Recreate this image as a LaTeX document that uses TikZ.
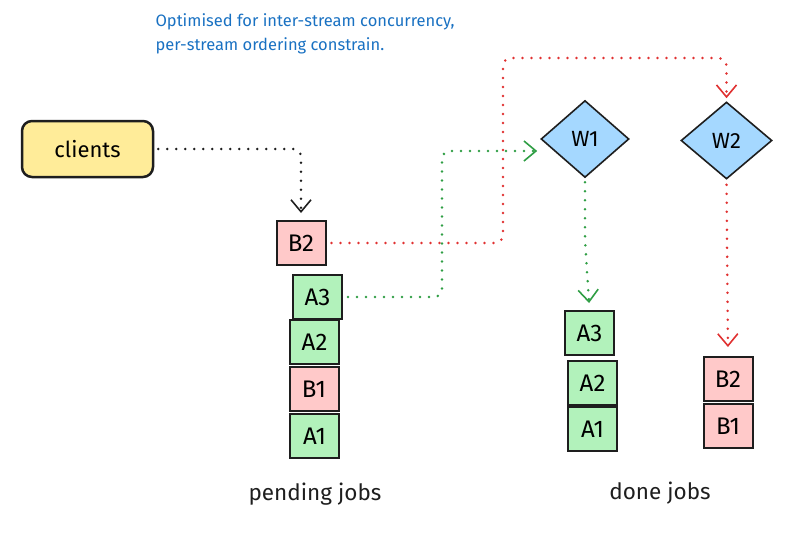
\documentclass[tikz,border=0pt]{standalone}
\usepackage{fontspec}
\setmainfont{Fira Sans}
\usetikzlibrary{arrows.meta,shapes.geometric}

\definecolor{ink}{HTML}{1E1E1E}
\definecolor{jobA}{HTML}{B2F2BB}
\definecolor{jobB}{HTML}{FFC9C9}
\definecolor{worker}{HTML}{A5D8FF}
\definecolor{client}{HTML}{FFEC99}
\definecolor{note}{HTML}{1971C2}
\definecolor{flowA}{HTML}{2F9E44}
\definecolor{flowB}{HTML}{E03131}

\begin{document}
\begin{tikzpicture}[x=1pt,y=-1pt,
  job/.style={rectangle,draw=ink,line width=2pt,minimum width=49pt,minimum height=44pt,inner sep=0pt,font=\fontsize{24}{28}\selectfont},
  jobA/.style={job,fill=jobA},
  jobB/.style={job,fill=jobB},
  worker node/.style={diamond,draw=ink,line width=1.6pt,fill=worker,inner sep=0pt,minimum width=88pt,minimum height=77pt,font=\fontsize{22}{26}\selectfont},
  label/.style={font=\fontsize{22.5}{26}\selectfont,text=ink},
  flow/.style={line width=2.8pt,line cap=round,dash pattern=on 0pt off 9pt,rounded corners=8pt,
    -{Straight Barb[length=12pt,width=20pt,line width=1.6pt]}}]

  \useasboundingbox (0,0) rectangle (802,552);

  % note at the top
  \node[anchor=west,align=left,text=note,font=\fontsize{16.5}{24}\selectfont] (note) at (152,34)
    {Optimised for inter-stream concurrency,\\per-stream ordering constrain.};

  \node[draw=ink,line width=2.5pt,fill=client,rounded corners=10pt,minimum width=131pt,minimum height=56pt,
    font=\fontsize{22}{26}\selectfont] (clients) at (87.5,149) {clients};

  % pending jobs
  \node[jobB] (pB2) at (301,243) {B2};
  \node[jobA] (pA3) at (317.5,297) {A3};
  \node[jobA] (pA2) at (314.5,342) {A2};
  \node[jobB] (pB1) at (314,389) {B1};
  \node[jobA] (pA1) at (314.5,436) {A1};
  \node[label] (pending) at (315,494) {pending jobs};

  % workers
  \node[worker node] (W1) at (585,139) {W1};
  \node[worker node,minimum width=91pt] (W2) at (726.5,140.5) {W2};

  % done jobs
  \node[jobA] (dA3) at (589.5,333) {A3};
  \node[jobA] (dA2) at (592.5,383) {A2};
  \node[jobA] (dA1) at (592.5,429) {A1};
  \node[jobB] (dB2) at (728,379) {B2};
  \node[jobB] (dB1) at (728,426) {B1};
  \node[label] (done) at (660,493) {done jobs};

  \draw[flow,ink,shorten <=4pt,shorten >=7pt] (clients.east) -| (pB2.north);
  \draw[flow,flowB,shorten <=5pt,shorten >=3pt] (pB2.east) -| (503,58) -| (W2.north);
  \draw[flow,flowA,shorten <=5pt,shorten >=3pt] (pA3.east) -| (442,151) -- ([yshift=-12pt]W1.west);
  \draw[flow,flowA,shorten <=4pt,shorten >=7pt] (W1.south) -- ++(0,62) -- (dA3.north);
  \draw[flow,flowB,shorten <=5pt,shorten >=9pt] (W2.south) -- (dB2.north);
\end{tikzpicture}
\end{document}
